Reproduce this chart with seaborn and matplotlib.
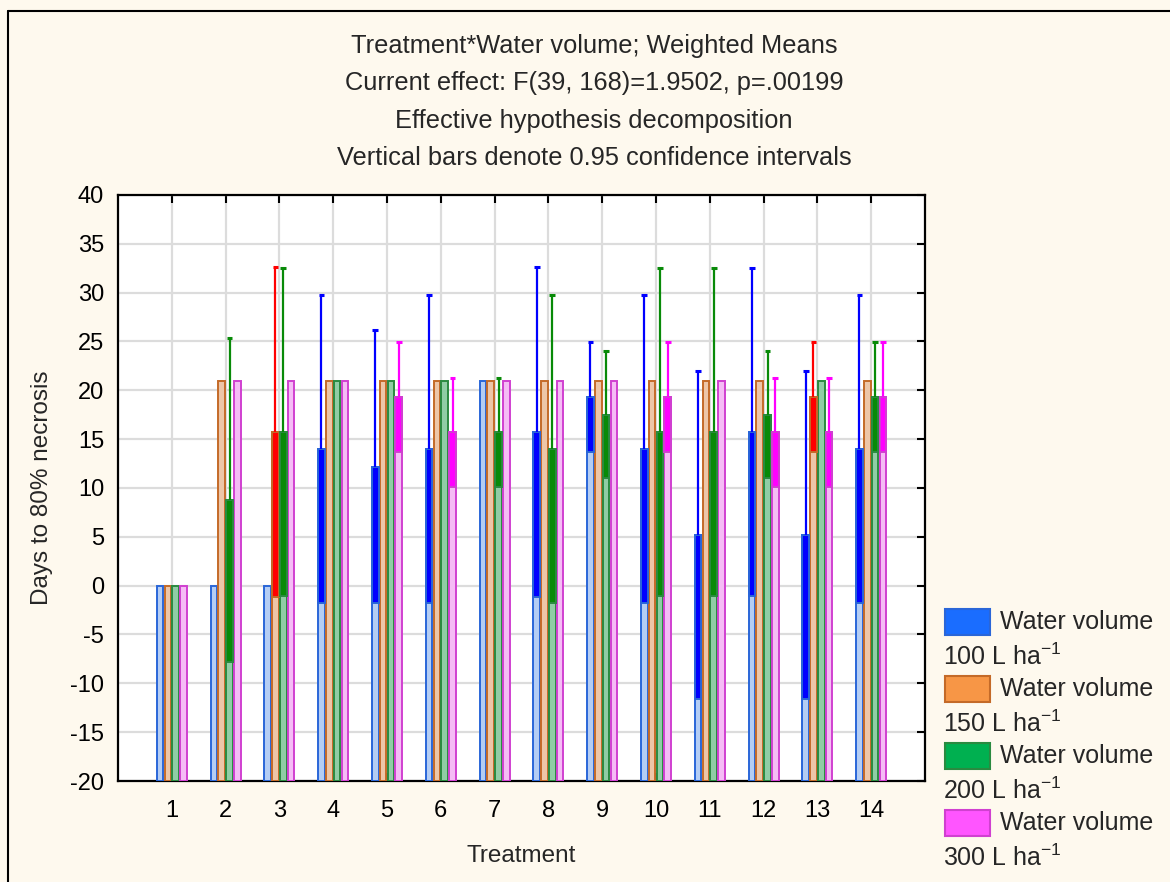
import matplotlib.pyplot as plt
import matplotlib.patches as mpatches
import matplotlib.lines as mlines
import pandas as pd
import seaborn as sns

# data
treatments = [str(i) for i in range(1, 15)]
volumes = ["100", "150", "200", "300"]

mean_100 = [0, 0, 0, 14, 12.2, 14, 21, 15.7, 19.3, 14, 5.2, 15.7, 5.2, 14]
ci_100 = [0, 0, 0, 15.8, 14.0, 15.8, 0, 16.9, 5.6, 15.8, 16.8, 16.8, 16.8, 15.8]
mean_150 = [0, 21, 15.7, 21, 21, 21, 21, 21, 21, 21, 21, 21, 19.3, 21]
ci_150 = [0, 0, 16.9, 0, 0, 0, 0, 0, 0, 0, 0, 0, 5.6, 0]
mean_200 = [0, 8.75, 15.7, 21, 21, 21, 15.7, 14, 17.5, 15.7, 15.7, 17.5, 21, 19.3]
ci_200 = [0, 16.6, 16.8, 0, 0, 0, 5.6, 15.8, 6.5, 16.8, 16.8, 6.5, 0, 5.6]
mean_300 = [0, 21, 21, 21, 19.3, 15.7, 21, 21, 21, 19.3, 21, 15.7, 15.7, 19.3]
ci_300 = [0, 0, 0, 0, 5.6, 5.6, 0, 0, 0, 5.6, 0, 5.6, 5.6, 5.6]

title_lines = [
    "Treatment*Water volume; Weighted Means",
    "Current effect: F(39, 168)=1.9502, p=.00199",
    "Effective hypothesis decomposition",
    "Vertical bars denote 0.95 confidence intervals",
]

FLOOR = -20
BG = "#fef9ee"
fill_colors = ["#a9cbff", "#f9c49c", "#86d7a2", "#ffb2ff"]
edge_colors = ["#2a66d8", "#c46a28", "#2a8a40", "#d040d0"]
err_colors = ["#0000ff", "#ff0000", "#088a08", "#ff00ff"]
legend_colors = ["#1a6dff", "#f79646", "#00b050", "#ff55ff"]

all_means = [mean_100, mean_150, mean_200, mean_300]
all_cis = [ci_100, ci_150, ci_200, ci_300]

frames = []
for vol, means, cis in zip(volumes, all_means, all_cis):
    frames.append(pd.DataFrame({"Treatment": treatments, "Volume": vol,
                                "Mean": means, "CI": cis}))
df = pd.concat(frames, ignore_index=True)
df["Height"] = df["Mean"] - FLOOR

sns.set_style("white")
plt.rcParams["font.family"] = ["Liberation Sans", "DejaVu Sans"]
plt.rcParams["mathtext.default"] = "regular"
plt.rcParams["axes.unicode_minus"] = False

W, H = 1170, 882
fig = plt.figure(figsize=(W / 100, H / 100), dpi=100, facecolor=BG)
ax = fig.add_axes([118 / W, 1 - 781 / H, (925 - 118) / W, (781 - 195) / H])
ax.set_facecolor("white")
ax.set_axisbelow(True)

sns.barplot(data=df, x="Treatment", y="Height", hue="Volume", order=treatments,
            hue_order=volumes, palette=dict(zip(volumes, fill_colors)),
            errorbar=None, width=0.58, gap=0.15, bottom=FLOOR, legend=False,
            linewidth=1.4, zorder=3, ax=ax)

bar_groups = list(ax.containers)
for i, cont in enumerate(bar_groups):
    for rect, m, ci in zip(cont, all_means[i], all_cis[i]):
        rect.set_edgecolor(edge_colors[i])
        if ci <= 0:
            continue
        cx = rect.get_x() + rect.get_width() / 2
        w = rect.get_width()
        ax.bar(cx, ci, bottom=m - ci, width=w, color=err_colors[i],
               edgecolor=edge_colors[i], linewidth=1.4, zorder=4)
        ax.vlines(cx, m, m + ci, color=err_colors[i], lw=1.6, zorder=5)
        ax.hlines(m + ci, cx - w * 0.45, cx + w * 0.45, color=err_colors[i], lw=2.2, zorder=5)

ax.set_xlim(-1, 14)
ax.set_ylim(-20, 40)
ax.set_yticks(range(-20, 41, 5))
ax.grid(True, color="#dcdcdc", lw=1.6)
for sp in ax.spines.values():
    sp.set_color("black")
    sp.set_linewidth(1.6)

ax.tick_params(axis="x", direction="in", bottom=True, top=True, length=6, width=1.5,
               labelsize=17, pad=14, colors="black")
ax.tick_params(axis="y", direction="in", left=False, right=True, length=6, width=1.5,
               labelsize=17, pad=10, colors="black")
ax.set_xlabel("Treatment", fontsize=17.5, labelpad=16)
ax.set_ylabel("Days to 80% necrosis", fontsize=17.5, labelpad=12)

for k, line in enumerate(title_lines):
    fig.text(594 / W, 1 - (46 + 37.3 * k) / H, line, ha="center", va="center", fontsize=18.3)

# legend laid out like the original: box + first line, second line below
for k, vol in enumerate(volumes):
    yc = 622 + 67 * k
    fig.patches.append(mpatches.Rectangle((945 / W, 1 - (yc + 13) / H), 45 / W, 26 / H,
                                          transform=fig.transFigure, facecolor=legend_colors[k],
                                          edgecolor=edge_colors[k], linewidth=1.5))
    fig.text(1000 / W, 1 - yc / H, "Water volume", ha="left", va="center", fontsize=18)
    fig.text(943 / W, 1 - (yc + 35) / H, vol + r" L ha$^{-1}$", ha="left", va="center", fontsize=18)

# outer frame of the graph window
fig.add_artist(mlines.Line2D([8 / W, 8 / W], [0, 1 - 11 / H], color="black", lw=1.5))
fig.add_artist(mlines.Line2D([8 / W, 1], [1 - 11 / H, 1 - 11 / H], color="black", lw=1.5))

fig.savefig("out.png", dpi=100, facecolor=BG)
